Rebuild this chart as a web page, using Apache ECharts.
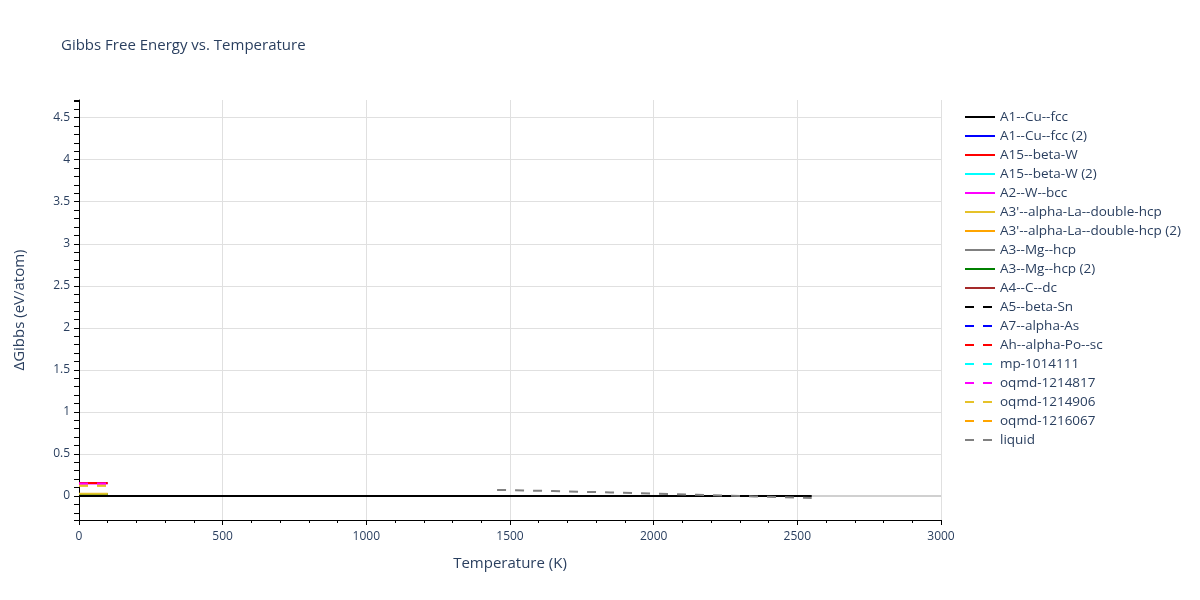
<!DOCTYPE html>
<html>
<head>
<meta charset="utf-8">
<script src="https://cdn.jsdelivr.net/npm/echarts@6/dist/echarts.min.js"></script>
<style>html,body{margin:0;padding:0;background:#fff}#c{width:1200px;height:600px}</style>
</head>
<body>
<div id="c"></div>
<script>
// ---- data ----
const lowT = [0, 20, 40, 60, 80, 100];
const fullT = [0, 500, 1000, 1500, 2000, 2550];
const liquidT = [1455, 1550, 1650, 1750, 1850, 1950, 2050, 2150, 2250, 2350, 2450, 2550];
const liquidG = [0.072, 0.065, 0.058, 0.05, 0.042, 0.033, 0.024, 0.014, 0.004, -0.006, -0.016, -0.024];

const seriesNames = [
  "A1--Cu--fcc", "A1--Cu--fcc (2)", "A15--beta-W", "A15--beta-W (2)", "A2--W--bcc",
  "A3'--alpha-La--double-hcp", "A3'--alpha-La--double-hcp (2)", "A3--Mg--hcp", "A3--Mg--hcp (2)",
  "A4--C--dc", "A5--beta-Sn", "A7--alpha-As", "Ah--alpha-Po--sc", "mp-1014111",
  "oqmd-1214817", "oqmd-1214906", "oqmd-1216067", "liquid"
];
const seriesColors = [
  "#000000", "#0000ff", "#ff0000", "#00ffff", "#ff00ff",
  "#e6c229", "#ffa500", "#808080", "#008000",
  "#a52a2a", "#000000", "#0000ff", "#ff0000", "#00ffff",
  "#ff00ff", "#e6c229", "#ffa500", "#808080"
];
const seriesDashed = [
  false, false, false, false, false, false, false, false, false,
  false, true, true, true, true, true, true, true, true
];
// constant ΔG levels (eV/atom) over the low-temperature range
const lowLevels = {
  "A1--Cu--fcc (2)": 0.0,
  "A15--beta-W": 0.155,
  "A15--beta-W (2)": 0.155,
  "A2--W--bcc": 0.148,
  "A3'--alpha-La--double-hcp": 0.025,
  "A3'--alpha-La--double-hcp (2)": 0.022,
  "A3--Mg--hcp": 0.012,
  "A3--Mg--hcp (2)": 0.02,
  "A4--C--dc": 0.0,
  "A5--beta-Sn": 0.0,
  "A7--alpha-As": 0.0,
  "Ah--alpha-Po--sc": 0.0,
  "mp-1014111": 0.0,
  "oqmd-1214817": 0.148,
  "oqmd-1214906": 0.12,
  "oqmd-1216067": 0.125
};
const fullLevels = [0, 0, 0, 0, 0, 0];

// drawing order (higher = on top)
const drawOrder = {
  "A1--Cu--fcc (2)": 2, "A15--beta-W (2)": 2, "A2--W--bcc": 3, "A15--beta-W": 4,
  "A4--C--dc": 2, "A5--beta-Sn": 2, "A7--alpha-As": 2, "Ah--alpha-Po--sc": 2, "mp-1014111": 2,
  "A3--Mg--hcp": 3, "A3'--alpha-La--double-hcp (2)": 3, "A3--Mg--hcp (2)": 4,
  "A3'--alpha-La--double-hcp": 5, "A1--Cu--fcc": 6,
  "oqmd-1216067": 5, "oqmd-1214906": 6, "oqmd-1214817": 7, "liquid": 7
};

// ---- build ----
const series = seriesNames.map((name, i) => {
  let data;
  if (name === "A1--Cu--fcc") data = fullT.map((t, j) => [t, fullLevels[j]]);
  else if (name === "liquid") data = liquidT.map((t, j) => [t, liquidG[j]]);
  else data = lowT.map(t => [t, lowLevels[name]]);
  return {
    name, type: 'line', data, symbol: 'none', showSymbol: false,
    lineStyle: { color: seriesColors[i], width: 2, type: seriesDashed[i] ? [9, 9] : 'solid' },
    itemStyle: { color: seriesColors[i] },
    z: drawOrder[name] || 2,
    animation: false
  };
});

const font = '"Open Sans", verdana, arial, sans-serif';
const chart = echarts.init(document.getElementById('c'), null, { renderer: 'canvas' });
chart.setOption({
  animation: false,
  backgroundColor: '#fff',
  title: {
    text: 'Gibbs Free Energy vs. Temperature', left: 56, top: 33,
    textStyle: { fontFamily: font, fontSize: 15, fontWeight: 'normal', color: '#2a3f5f' }
  },
  grid: { left: 79, right: 259, top: 100, bottom: 80, containLabel: false },
  legend: {
    orient: 'vertical', left: 959, top: 105, itemWidth: 30, itemHeight: 14, itemGap: 5,
    itemStyle: { opacity: 0 },
    lineStyle: { width: 2 },
    textStyle: { fontFamily: font, fontSize: 13.5, color: '#2a3f5f' },
    data: seriesNames
  },
  xAxis: {
    type: 'value', min: 0, max: 3000, interval: 500,
    name: 'Temperature (K)', nameLocation: 'middle', nameGap: 36,
    nameTextStyle: { fontFamily: font, fontSize: 15, color: '#2a3f5f' },
    axisLine: { show: true, onZero: false, lineStyle: { color: '#000', width: 1 } },
    axisTick: { show: true, length: 5, lineStyle: { color: '#000' } },
    minorTick: { show: true, splitNumber: 5, length: 3, lineStyle: { color: '#000' } },
    axisLabel: { fontFamily: font, fontSize: 12, color: '#2a3f5f', margin: 11, formatter: v => String(v) },
    splitLine: { show: true, lineStyle: { color: '#e0e0e0', width: 1 } }
  },
  yAxis: {
    type: 'value', min: -0.286, max: 4.71, splitNumber: 10,
    name: 'ΔGibbs (eV/atom)', nameLocation: 'middle', nameGap: 52,
    nameTextStyle: { fontFamily: font, fontSize: 15, color: '#2a3f5f' },
    axisLine: { show: true, lineStyle: { color: '#000', width: 1 } },
    axisTick: { show: true, length: 5, lineStyle: { color: '#000' } },
    minorTick: { show: true, splitNumber: 5, length: 5, lineStyle: { color: '#000' } },
    axisLabel: { fontFamily: font, fontSize: 12, color: '#2a3f5f', margin: 9, showMinLabel: false, showMaxLabel: false, formatter: v => String(v) },
    splitLine: { show: true, showMinLine: false, showMaxLine: false, lineStyle: { color: '#e0e0e0', width: 1 } }
  },
  series: series.concat([{
    type: 'line', name: '__zero', data: [[0, 0], [3000, 0]], symbol: 'none', silent: true,
    lineStyle: { color: '#d0d0d0', width: 2 }, z: 1, legendHoverLink: false
  }])
});
</script>
</body>
</html>
